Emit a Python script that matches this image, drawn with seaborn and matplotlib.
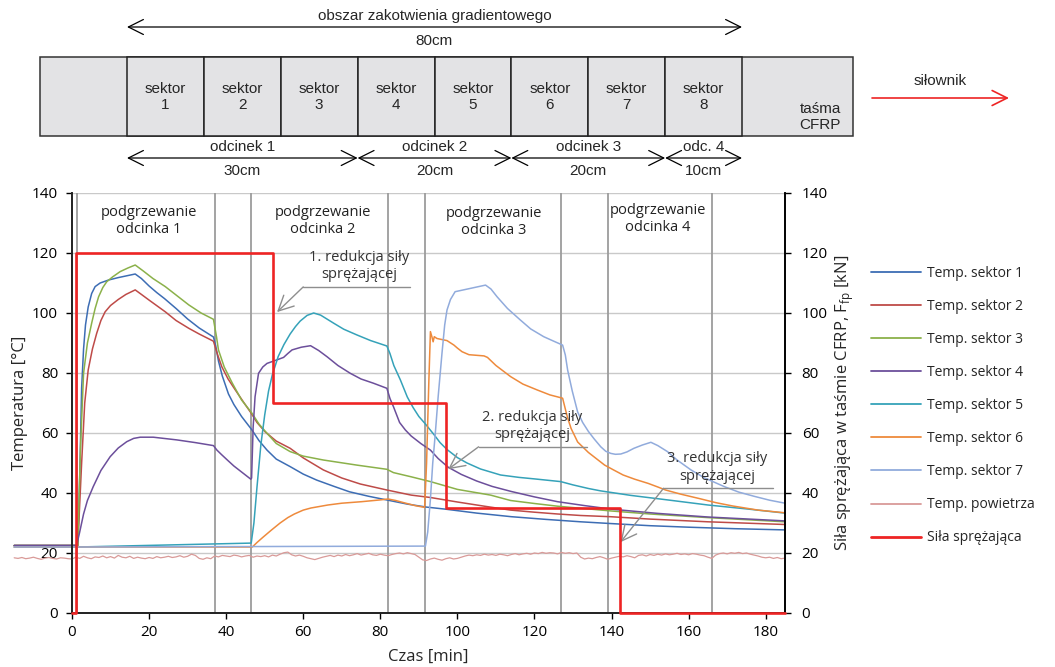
import numpy as np
import pandas as pd
import matplotlib
matplotlib.use("Agg")
import matplotlib.pyplot as plt
from matplotlib.lines import Line2D
from matplotlib.patches import Rectangle
import seaborn as sns

sns.set_theme(style="white")
plt.rcParams["font.family"] = ["Open Sans", "DejaVu Sans"]
NARROW = ["Liberation Sans Narrow", "Liberation Sans", "DejaVu Sans"]

# ------------------------------------------------------------------
# Data (time in min, temperature in °C)
# ------------------------------------------------------------------
t_s1 = [-15, 1.5, 2.0, 2.5, 3.0, 3.5, 4.2, 5.1, 6.0, 7.3, 9.5, 12, 16.4, 18, 20, 22, 24, 27, 30,
        33, 36.7, 37.3, 38, 39, 40.6, 42, 44, 46.7, 48.5, 50.6, 53, 56.6, 60, 63.5, 68, 72, 77,
        82, 87, 92, 97, 105, 114, 123, 132, 140, 150, 160, 172, 185]
T_s1 = [22.5, 22.5, 45, 75, 88, 96, 102, 106.5, 108.8, 110, 111, 111.8, 113, 111.5, 109, 106.8,
        104.8, 101.5, 98, 95, 92, 89, 84, 79, 73, 69.5, 65.5, 61, 57.5, 54.3, 51.3, 48.8, 46.3,
        44.3, 42.2, 40.4, 38.9, 37.6, 36.3, 35.3, 34.6, 33.3, 32.1, 31.2, 30.4, 29.8, 29.1, 28.6,
        28.1, 27.7]

t_s2 = [-15, 1.5, 2.5, 3.3, 4.2, 5.3, 6.4, 7.5, 8.6, 10, 12, 14, 16.4, 18, 20, 24.2, 27, 30.3,
        33, 36.7, 37.8, 38.9, 40.5, 42.4, 44.5, 46.5, 48, 50.1, 53, 56.6, 60, 65.2, 70, 74.8, 81.7,
        88, 93, 100, 107, 113.8, 120, 126, 132, 139.7, 150, 165, 185]
T_s2 = [22.5, 22.5, 50, 70, 81, 88, 93.2, 97.5, 100.4, 102.5, 104.5, 106.2, 107.7, 106.2, 104.3,
        100.4, 97.5, 94.9, 93, 90.6, 86, 82, 78, 74.3, 70.3, 66.6, 63.5, 60.4, 57.3, 54.9, 51.7,
        47.7, 45, 43, 41, 39.3, 38.5, 37, 35.6, 34.3, 33.6, 33, 32.5, 32.1, 31.3, 30.4, 29.5]

t_s3 = [-15, 1.5, 2.2, 3, 4, 5.1, 6, 6.9, 8, 9, 10.5, 12.5, 14.5, 16.4, 18.5, 21, 24.2, 27, 30.3,
        33.5, 36.7, 37.5, 38, 39.5, 41.6, 44, 46.7, 48.5, 50.6, 53, 56.6, 60, 65.2, 73.9, 81.7,
        83.4, 88, 93, 100, 108.6, 113.8, 120, 126, 133, 140, 150, 165, 185]
T_s3 = [22.5, 22.5, 55, 79.9, 90, 96.6, 101.5, 105.4, 108.5, 110.4, 112, 113.8, 115, 116, 114,
        111.5, 108.8, 106, 102.7, 100, 97.9, 92, 87.7, 82, 76.6, 71, 66.6, 63, 59.9, 56.5, 53.8,
        52.3, 51, 49.3, 47.9, 46.8, 45.4, 43.8, 41.2, 39.3, 37.5, 36.5, 35.6, 34.8, 34, 33, 31.8,
        30.4]

t_s4 = [-15, 1.2, 2, 3, 4, 5.5, 7.5, 9.9, 12, 14.2, 16, 17.7, 21.1, 27.2, 32, 36.7, 37.6, 38.8,
        40.3, 42, 44, 46.4, 46.6, 47, 47.5, 48.4, 49.5, 50.6, 53, 54.9, 56, 57.1, 59.5, 61.9, 64,
        66.2, 69, 72.2, 75, 78.2, 81.7, 82.5, 83.4, 85, 86.5, 88, 90.5, 93, 95, 97.6, 101, 105, 109,
        114, 120, 126, 133, 140, 152, 165, 185]
T_s4 = [22.5, 22.5, 27, 33, 37.5, 42.1, 47.5, 52.1, 55, 57.1, 58.2, 58.6, 58.6, 57.7, 56.8, 55.8,
        54.3, 52.8, 51, 49, 47, 44.6, 45, 62, 72.1, 79.9, 82, 83.2, 84.3, 85.2, 86.5, 87.7, 88.6,
        89.1, 87.5, 85.4, 82.5, 79.9, 78, 76.6, 74.9, 71.5, 68.8, 63.5, 61, 59, 56.5, 54.3, 51.5,
        48.6, 46.2, 44, 42.2, 40.5, 38.7, 37.1, 35.8, 34.6, 33.2, 32, 30.7]

t_s5 = [-15, 1.5, 46.5, 47.2, 48, 49, 50, 51, 52, 53.5, 55, 56.6, 58, 59.2, 61, 62.7, 64.5, 67.9,
        70.5, 73.9, 77.5, 81.7, 82.5, 83.5, 85.2, 87, 88.5, 90, 91.7, 93.9, 95.5, 97.3, 100, 102.5,
        106, 111.2, 116, 120, 126.8, 130, 134, 137.2, 145, 154.5, 165, 175, 185]
T_s5 = [22, 22, 23.3, 30, 42, 56, 66, 74, 79.5, 85.5, 89.5, 93, 95.5, 97.3, 99.2, 100, 99.3, 96.6,
        94.6, 92.7, 90.8, 89, 86.5, 82.5, 77.7, 72, 68.5, 65.5, 63, 59.5, 56.8, 54.5, 51.8, 50,
        48, 46, 45.2, 44.7, 43.8, 42.7, 41.5, 40.7, 39.2, 37.7, 36, 34.7, 33.3]

t_s6 = [-15, 1.5, 46.8, 48, 49.5, 51.7, 54, 56, 57.7, 60, 62, 66.4, 70, 75.1, 80, 82, 84, 86, 89,
        91.5, 92, 92.6, 93, 93.4, 93.7, 94, 94.7, 97.3, 99.1, 100, 101.2, 103, 106.9, 107.8, 110,
        113.8, 117, 120.8, 124, 127.3, 128, 128.6, 129.5, 131.2, 134, 136, 138.2, 140.5, 143, 146,
        149.5, 152, 154, 158, 162.6, 167, 171.3, 178, 185]
T_s6 = [22, 22, 22, 23.5, 25.2, 27.6, 30, 31.8, 33, 34.3, 35, 36, 36.6, 37.1, 37.7, 38, 37.5,
        36.8, 35.8, 35.2, 50, 77.7, 93.8, 92, 90.4, 92.1, 91.5, 90.8, 89.3, 88.3, 87.1, 86.1, 85.7,
        85.2, 82.5, 78.8, 76.3, 74.3, 72.7, 71.6, 68, 65, 61.5, 57, 53.5, 51.5, 49.3, 47.7, 46,
        44.6, 43.2, 42, 41, 39.6, 38.2, 36.8, 35.7, 34.3, 33.4]

t_s7 = [-15, 1.5, 91.7, 92.3, 93, 93.6, 94.2, 95, 96, 96.7, 97.3, 98.2, 99.4, 103, 107.3, 108.7,
        110.3, 113, 116.3, 119, 122.4, 125, 127.3, 128, 128.6, 129.8, 131.2, 132.5, 134, 135.5,
        137.2, 138.5, 139.8, 141, 142.4, 144, 145.8, 148, 150.2, 152, 154.5, 157, 160.6, 164,
        169.3, 173, 177, 181, 185]
T_s7 = [22, 22, 22.3, 27, 38, 50, 58.8, 72, 86.6, 96, 101, 104.5, 107.1, 108.1, 109.3, 108,
        105.4, 101.5, 97.7, 94.7, 92.1, 90.6, 89.3, 86, 81, 74, 67, 63.5, 60.5, 58, 55.4, 53.9,
        53.2, 52.9, 53, 53.7, 54.9, 56, 56.9, 55.8, 53.8, 51, 47.7, 45.1, 42.1, 40.3, 38.9, 37.6,
        36.6]

# air temperature, one reading per minute from -15 to 185 min
t_air = np.arange(-15, 186)
T_air = [18.4, 18.2, 18.5, 18.1, 18.3, 18.6, 18.2, 17.9, 18.3, 18.5, 18.2, 18.0, 18.4, 18.3, 18.1,
         18.0, 18.6, 18.2, 18.9, 18.4, 18.1, 18.7, 18.5, 19.0, 18.4,
         18.8, 18.3, 19.2, 18.6, 18.4, 18.9, 18.2, 18.6, 18.3, 18.1,
         18.5, 18.2, 18.8, 18.4, 18.6, 18.9, 18.5, 18.7, 19.1, 18.6,
         18.9, 19.6, 19.2, 18.2, 17.9, 18.4, 18.1, 19.0, 18.7, 19.2,
         19.0, 18.8, 19.3, 19.1, 18.7, 19.0, 19.2, 18.6, 19.0, 18.8,
         19.1, 18.7, 19.3, 19.0, 19.6, 20.1, 20.3, 19.4, 19.0, 19.3,
         18.9, 18.4, 18.1, 17.8, 18.2, 18.6, 18.9, 19.2, 18.8, 19.3,
         19.0, 19.5, 19.1, 19.4, 19.8, 19.3, 19.6, 19.9, 19.4, 19.2,
         19.6, 19.3, 19.1, 19.5, 19.8, 20.0, 19.7, 20.1, 19.8, 19.5,
         18.6, 17.7, 17.5, 18.0, 18.3, 17.9, 17.6, 18.1, 18.4, 18.0,
         18.2, 18.6, 19.0, 19.3, 19.1, 19.4, 19.2, 19.6, 19.3, 19.5,
         19.2, 19.6, 19.4, 19.1, 19.5, 19.8, 19.4, 19.7, 19.9, 19.6,
         20.0, 19.8, 20.2, 19.9, 20.1, 20.0, 19.7, 20.2, 19.9, 20.1,
         19.8, 20.0, 18.6, 18.0, 18.3, 18.1, 18.5, 18.8, 18.4, 17.9,
         18.3, 18.6, 18.9, 18.7, 19.1, 18.8, 18.4, 19.2, 19.4, 19.0,
         19.5, 19.2, 19.6, 19.3, 19.7, 19.4, 19.6, 19.9, 19.5, 19.7,
         19.4, 19.8, 19.6, 19.3, 19.1, 18.6, 18.2, 19.3, 19.8, 20.0,
         19.7, 20.1, 19.9, 20.2, 19.8, 20.0, 19.6, 19.3, 19.0, 18.6,
         18.4, 18.6, 18.2, 18.5, 18.1, 18.3]

# prestressing force [kN] (step function)
t_force = [0, 1, 52.2, 97.1, 142.3, 185]
F_force = [0, 120, 70, 35, 0, 0]

# phase boundaries (vertical lines)
phase_times = [1.3, 37, 46.5, 82, 91.5, 127, 139, 166]
phase_labels = ["podgrzewanie\nodcinka 1", "podgrzewanie\nodcinka 2",
                "podgrzewanie\nodcinka 3", "podgrzewanie\nodcinka 4"]
phase_label_t = [20, 65, 109.4, 152]
phase_label_T = [130.7, 130.7, 130.4, 131.3]

# force reduction annotations
red_texts = ["1. redukcja siły\nsprężającej", "2. redukcja siły\nsprężającej",
             "3. redukcja siły\nsprężającej"]
red_text_t = [74.5, 119.5, 167.5]
red_text_T = [115.6, 62.3, 48.5]
red_line_t0 = [60, 105.5, 153.5]
red_line_t1 = [87.8, 133.7, 181.8]
red_line_T = [108.7, 55.4, 41.6]
red_tip_t = [53.2, 97.6, 142.3]
red_tip_T = [100.3, 47.9, 23.6]

series_names = ["Temp. sektor 1", "Temp. sektor 2", "Temp. sektor 3", "Temp. sektor 4",
                "Temp. sektor 5", "Temp. sektor 6", "Temp. sektor 7", "Temp. powietrza"]
series_colors = ["#3d6db4", "#be4b48", "#8bb14a", "#6c4f9b", "#35a2b9", "#ee8a3c",
                 "#91abdc", "#d99a98"]
force_name = "Siła sprężająca"
force_color = "#ee2424"

# top diagram
sector_labels = ["1", "2", "3", "4", "5", "6", "7", "8"]
segment_cm = [30, 20, 20, 10]
segment_labels = ["odcinek 1", "odcinek 2", "odcinek 3", "odc. 4"]
segment_len_labels = ["30cm", "20cm", "20cm", "10cm"]

# ------------------------------------------------------------------
# Long table for seaborn
# ------------------------------------------------------------------
all_t = [t_s1, t_s2, t_s3, t_s4, t_s5, t_s6, t_s7, list(t_air)]
all_T = [T_s1, T_s2, T_s3, T_s4, T_s5, T_s6, T_s7, T_air]
frames = [pd.DataFrame({"t": tt, "T": TT, "series": name})
          for tt, TT, name in zip(all_t, all_T, series_names)]
df = pd.concat(frames, ignore_index=True)
palette = dict(zip(series_names, series_colors))

fig = plt.figure(figsize=(10.55, 6.67), dpi=100)
ax = fig.add_axes([72 / 1055, 54 / 667, 713 / 1055, 420 / 667])

ax.set_xlim(0, 185)
ax.set_ylim(0, 140)
ax.set_yticks(range(0, 141, 20))
ax.set_xticks(range(0, 181, 20))
ax.yaxis.grid(True, color="#c9c9c9", lw=1)
ax.xaxis.grid(False)

for tp in phase_times:
    ax.axvline(tp, color="#9c9c9c", lw=1.3, zorder=1.5)

# air first (lowest), then sectors
sns.lineplot(data=df[df["series"] == "Temp. powietrza"], x="t", y="T", color=palette["Temp. powietrza"],
             estimator=None, sort=False, lw=0.9, legend=False, ax=ax, clip_on=False)
sns.lineplot(data=df[df["series"] != "Temp. powietrza"], x="t", y="T", hue="series",
             palette=palette, estimator=None, sort=False, lw=1.1, legend=False, ax=ax, clip_on=False)

for txt, tx, ty in zip(phase_labels, phase_label_t, phase_label_T):
    ax.text(tx, ty, txt, ha="center", va="center", fontsize=10.5, color="#222222", linespacing=1.2)

for txt, tx, ty, l0, l1, ly, px, py in zip(red_texts, red_text_t, red_text_T, red_line_t0,
                                           red_line_t1, red_line_T, red_tip_t, red_tip_T):
    ax.text(tx, ty, txt, ha="center", va="center", fontsize=10.5, color="#333333", linespacing=1.2,
            zorder=6)
    ax.plot([l0, l1], [ly, ly], color="#8e8e8e", lw=1, zorder=6)
    ax.annotate("", xy=(px, py), xytext=(l0, ly),
                arrowprops=dict(arrowstyle="->,head_length=0.9,head_width=0.45", color="#8e8e8e",
                                lw=1, shrinkA=0, shrinkB=0), zorder=6)

ax.spines["top"].set_visible(False)
for side in ["left", "bottom", "right"]:
    ax.spines[side].set_color("black")
    ax.spines[side].set_linewidth(1.2)
ax.tick_params(axis="both", which="major", direction="out", length=4, width=1,
               bottom=True, left=True, colors="black", labelsize=11)
ax.tick_params(axis="y", pad=6)
ax.tick_params(axis="x", pad=5)
ax.set_xlabel("Czas [min]", fontsize=12)
ax.set_ylabel("Temperatura [°C]", fontsize=12)
ax.xaxis.set_label_coords(0.5, -0.085)
ax.yaxis.set_label_coords(-0.062, 0.5)

ax2 = ax.twinx()
ax2.set_ylim(0, 140)
ax2.set_yticks(range(0, 141, 20))
sns.lineplot(x=t_force, y=F_force, color=force_color, lw=1.9, drawstyle="steps-post",
             estimator=None, sort=False, ax=ax2, legend=False, clip_on=False, zorder=5)
ax2.spines["top"].set_visible(False)
ax2.spines["right"].set_color("black")
ax2.spines["right"].set_linewidth(1.2)
ax2.tick_params(axis="y", direction="out", length=4, width=1, right=True, colors="black",
                labelsize=11, pad=8)
ax2.set_ylabel("Siła sprężająca w taśmie CFRP, F$_\\mathregular{fp}$ [kN]", fontsize=12, rotation=90)
ax2.yaxis.set_label_coords(1.069, 0.5)
ax2.grid(False)

handles = [Line2D([], [], color=c, lw=1.3) for c in series_colors]
handles.append(Line2D([], [], color=force_color, lw=2.0))
labels = series_names + [force_name]
fig.legend(handles, labels, loc="upper left", bbox_to_anchor=(871 / 1055, 1 - 266 / 667),
           frameon=False, fontsize=10, handlelength=3.6, labelspacing=1.3, handletextpad=0.4,
           borderaxespad=0, borderpad=0)

# ------------------------------------------------------------------
# Top diagram (figure pixel coordinates)
# ------------------------------------------------------------------
axd = fig.add_axes([0, 0, 1, 1])
axd.set_xlim(0, 1055)
axd.set_ylim(667, 0)
axd.axis("off")

x_start, x_end = 127, 742
px_per_cm = (x_end - x_start) / sum(segment_cm)
box_top, box_bot = 57, 136
fill = "#e3e3e5"

axd.add_patch(Rectangle((40, box_top), 853 - 40, box_bot - box_top, facecolor=fill,
                        edgecolor="#333333", lw=1.1))
for i, lab in enumerate(sector_labels):
    x0 = x_start + i * 10 * px_per_cm
    axd.add_patch(Rectangle((x0, box_top), 10 * px_per_cm, box_bot - box_top, facecolor=fill,
                            edgecolor="#222222", lw=1.1))
    axd.text(x0 + 5 * px_per_cm, 97, "sektor\n" + lab, ha="center", va="center", fontsize=11,
             family=NARROW, linespacing=1.1)
axd.text(820, 117, "taśma\nCFRP", ha="center", va="center", fontsize=11, family=NARROW,
         linespacing=1.1)

arrow_kw = dict(arrowstyle="<->,head_length=0.9,head_width=0.45", color="black", lw=0.9,
                shrinkA=0, shrinkB=0)
axd.annotate("", xy=(x_end, 27), xytext=(x_start, 27), arrowprops=arrow_kw)
axd.text((x_start + x_end) / 2, 16, "obszar zakotwienia gradientowego", ha="center", va="center",
         fontsize=11, family=NARROW)
axd.text((x_start + x_end) / 2, 41, "%dcm" % sum(segment_cm), ha="center", va="center",
         fontsize=11, family=NARROW)

pos = x_start
for cm, lab, ln in zip(segment_cm, segment_labels, segment_len_labels):
    x1 = pos + cm * px_per_cm
    axd.annotate("", xy=(x1, 158), xytext=(pos, 158), arrowprops=arrow_kw)
    axd.text((pos + x1) / 2, 147, lab, ha="center", va="center", fontsize=11, family=NARROW)
    axd.text((pos + x1) / 2, 171, ln, ha="center", va="center", fontsize=11, family=NARROW)
    pos = x1

axd.annotate("", xy=(1009, 98), xytext=(872, 98),
             arrowprops=dict(arrowstyle="->,head_length=0.9,head_width=0.45", color=force_color,
                             lw=1.2, shrinkA=0, shrinkB=0))
axd.text(940, 81, "siłownik", ha="center", va="center", fontsize=11, family=NARROW)

fig.savefig("out.png", dpi=100)
